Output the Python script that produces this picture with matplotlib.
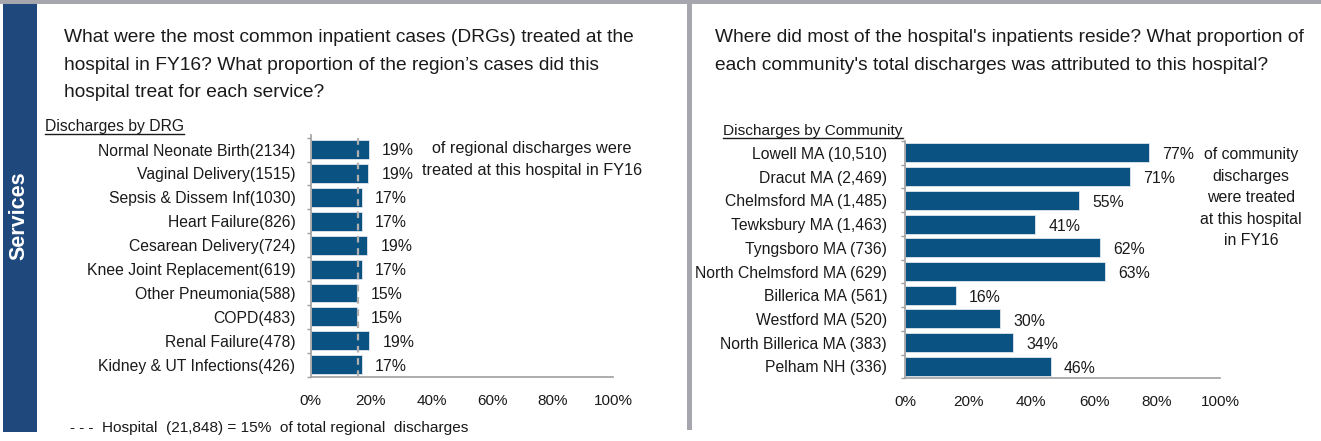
import matplotlib
matplotlib.use("Agg")
import matplotlib.pyplot as plt
from matplotlib.lines import Line2D
from matplotlib.patches import Rectangle

plt.rcParams['font.family'] = ['Liberation Sans', 'DejaVu Sans']

# ---------------- data ----------------
drg_labels = ["Normal Neonate Birth(2134)", "Vaginal Delivery(1515)", "Sepsis & Dissem Inf(1030)",
              "Heart Failure(826)", "Cesarean Delivery(724)", "Knee Joint Replacement(619)",
              "Other Pneumonia(588)", "COPD(483)", "Renal Failure(478)", "Kidney & UT Infections(426)"]
drg_pct = [19.2, 19.1, 16.9, 17.0, 18.8, 17.0, 15.4, 15.5, 19.4, 17.0]
drg_pct_labels = ["19%", "19%", "17%", "17%", "19%", "17%", "15%", "15%", "19%", "17%"]
hospital_share = 15.7

comm_labels = ["Lowell MA (10,510)", "Dracut MA (2,469)", "Chelmsford MA (1,485)", "Tewksbury MA (1,463)",
               "Tyngsboro MA (736)", "North Chelmsford MA (629)", "Billerica MA (561)",
               "Westford MA (520)", "North Billerica MA (383)", "Pelham NH (336)"]
comm_pct = [77.5, 71.4, 55.3, 41.3, 62.0, 63.5, 16.2, 30.1, 34.3, 46.2]
comm_pct_labels = ["77%", "71%", "55%", "41%", "62%", "63%", "16%", "30%", "34%", "46%"]

x_ticks = [0, 20, 40, 60, 80, 100]
x_tick_labels = ["0%", "20%", "40%", "60%", "80%", "100%"]

# ---------------- layout helpers ----------------
W, H = 1321, 441
fig = plt.figure(figsize=(W / 100, H / 100), dpi=100)

def fx(x):
    return x / W

def fy(y):
    return 1 - y / H

BAR = '#0A5282'
GRID = '#A0A0A0'
TXT = '#1a1a1a'

CAT_FS = 11.3
VAL_FS = 11.4
TICK_FS = 11.0

# frame decorations
fig.patches.append(Rectangle((0, fy(4)), 1, 4 / H, transform=fig.transFigure,
                             facecolor='#A6A6AE', edgecolor='none', zorder=0))
fig.patches.append(Rectangle((fx(3), fy(432)), 34 / W, 428 / H, transform=fig.transFigure,
                             facecolor='#1F497D', edgecolor='none', zorder=1))
fig.patches.append(Rectangle((fx(687), fy(430)), 5 / W, 430 / H, transform=fig.transFigure,
                             facecolor='#A6A6AE', edgecolor='none', zorder=1))
fig.text(fx(19), fy(216), "Services", rotation=90, color='white', fontsize=15.5,
         fontweight='bold', ha='center', va='center')

# titles
title_fs = 13.8
left_title = ["What were the most common inpatient cases (DRGs) treated at the",
              "hospital in FY16? What proportion of the region\u2019s cases did this",
              "hospital treat for each service?"]
for i, line in enumerate(left_title):
    fig.text(fx(64), fy(42 + 27.5 * i), line, fontsize=title_fs, color=TXT, va='baseline', ha='left')
right_title = ["Where did most of the hospital's inpatients reside? What proportion of",
               "each community's total discharges was attributed to this hospital?"]
for i, line in enumerate(right_title):
    fig.text(fx(715), fy(42 + 27.5 * i), line, fontsize=title_fs, color=TXT, va='baseline', ha='left')

sub1 = fig.text(fx(45), fy(131), "Discharges by DRG", fontsize=11.3, color=TXT, va='baseline')
sub2 = fig.text(fx(723), fy(135), "Discharges by Community", fontsize=11.1, color=TXT, va='baseline')


def make_axes(x0, x1, y0, y1):
    return fig.add_axes([fx(x0), fy(y1), (x1 - x0) / W, (y1 - y0) / H])


def style(ax, labels, n, top_margin, bottom_margin, pad_px, label_pad_px):
    ax.set_xlim(0, 100)
    ax.set_ylim(n - 1 + bottom_margin, -top_margin)
    for s in ['top', 'right']:
        ax.spines[s].set_visible(False)
    for s in ['left', 'bottom']:
        ax.spines[s].set_color(GRID)
        ax.spines[s].set_linewidth(1.2)
    ax.set_yticks(range(n))
    ax.set_yticklabels(labels, fontsize=CAT_FS, color=TXT)
    ax.set_yticks([i - 0.5 for i in range(n + 1)], minor=True)
    ax.tick_params(axis='y', which='major', length=0, pad=label_pad_px * 0.72)
    ax.tick_params(axis='y', which='minor', length=3.2, color=GRID, width=1)
    ax.set_xticks(x_ticks)
    ax.set_xticklabels(x_tick_labels, fontsize=TICK_FS, color=TXT)
    ax.tick_params(axis='x', length=0, pad=pad_px * 0.72)
    ax.set_facecolor('none')


# ---------------- left chart ----------------
axL = make_axes(310.5, 613, 135, 376.7)
n = len(drg_labels)
axL.barh(range(n), drg_pct, height=0.79, color=BAR, edgecolor='#dfe6ee', linewidth=0.6, zorder=2)
axL.axvline(hospital_share, color='#B0B0B0', linestyle=(0, (3, 2.5)), linewidth=1.6, zorder=3)
style(axL, drg_labels, n, 0.61, 0.45, 17, 15)
for i, (v, t) in enumerate(zip(drg_pct, drg_pct_labels)):
    axL.annotate(t, (v, i), xytext=(9.5, -1), textcoords='offset points', fontsize=VAL_FS,
                 color=TXT, va='center', ha='left')
fig.text(fx(532), fy(148), "of regional discharges were", fontsize=11.7, color=TXT,
         ha='center', va='center')
fig.text(fx(532), fy(171), "treated at this hospital in FY16", fontsize=11.7, color=TXT,
         ha='center', va='center')
fig.text(fx(70), fy(428), "- - -  Hospital  (21,848) = 15%  of total regional  discharges",
         fontsize=11.1, color=TXT, ha='left', va='center')

# ---------------- right chart ----------------
axR = make_axes(905, 1220, 141, 378.3)
m = len(comm_labels)
axR.barh(range(m), comm_pct, height=0.8, color=BAR, edgecolor='#dfe6ee', linewidth=0.6, zorder=2)
style(axR, comm_labels, m, 0.5, 0.45, 17, 18)
for i, (v, t) in enumerate(zip(comm_pct, comm_pct_labels)):
    axR.annotate(t, (v, i), xytext=(9.5, -1.5), textcoords='offset points', fontsize=VAL_FS,
                 color=TXT, va='center', ha='left')
right_note = ["of community", "discharges", "were treated", "at this hospital", "in FY16"]
for i, line in enumerate(right_note):
    fig.text(fx(1251), fy(155 + 21.4 * i), line, fontsize=11.4, color=TXT, ha='center',
             va='center')

# underline subtitles
fig.canvas.draw()
r = fig.canvas.get_renderer()
for t, yb in [(sub1, 133.5), (sub2, 137.5)]:
    bb = t.get_window_extent(r)
    fig.add_artist(Line2D([bb.x0 / W, bb.x1 / W], [fy(yb), fy(yb)], transform=fig.transFigure,
                          color=TXT, linewidth=1.0))

fig.savefig("out.png", dpi=100)
